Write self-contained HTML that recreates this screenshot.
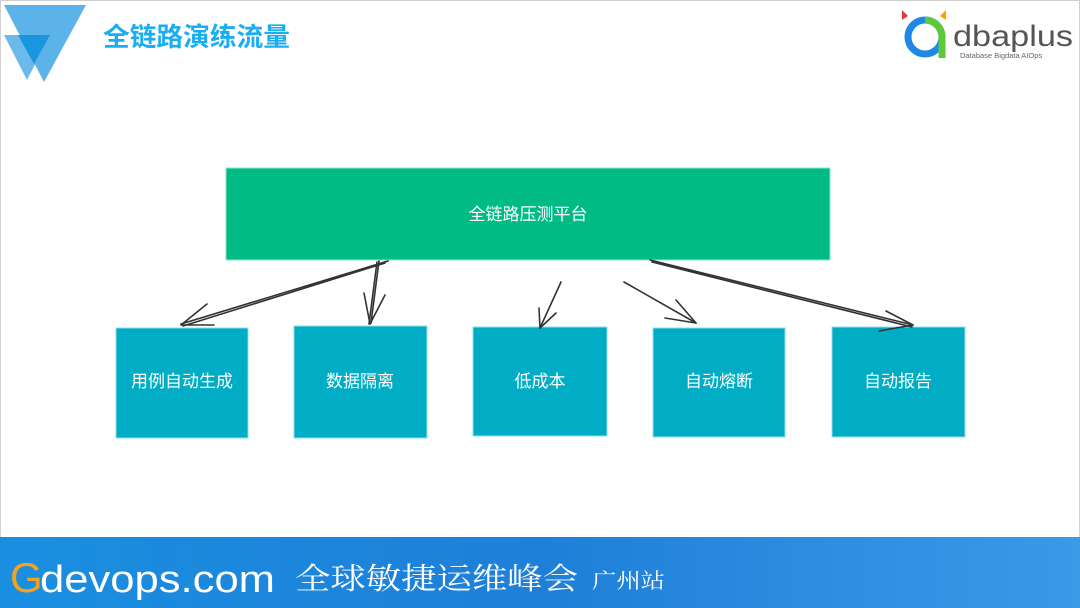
<!DOCTYPE html>
<html><head><meta charset="utf-8"><style>
html,body{margin:0;padding:0;background:#fff}
body{width:1080px;height:608px;overflow:hidden;position:relative;font-family:"Liberation Sans","Noto Sans CJK SC",sans-serif}
</style></head><body>
<svg width="1080" height="608" viewBox="0 0 1080 608" xmlns="http://www.w3.org/2000/svg" style="position:absolute;left:0;top:0">
<defs>
<linearGradient id="ft" x1="0" y1="0" x2="1" y2="0">
<stop offset="0" stop-color="#1a8fe0"/><stop offset="0.5" stop-color="#1e7fd8"/><stop offset="1" stop-color="#3a9ae8"/>
</linearGradient>
</defs>
<rect x="0.5" y="0.5" width="1079" height="607" fill="#fff" stroke="#d0d0d0"/>
<polygon points="4,5 86,5 44,82" fill="#5cb3ea"/>
<polygon points="4,35 50,35 27,80" fill="#5cb3ea" opacity="0.9"/>
<polygon points="18,35 50,35 34,64" fill="#1a96de"/>
<text x="103" y="46" font-size="26" font-weight="bold" fill="#1aaef0" textLength="187" lengthAdjust="spacingAndGlyphs" font-family="Liberation Sans,Noto Sans CJK SC,sans-serif">全链路演练流量</text>
<circle cx="925" cy="37" r="17" fill="none" stroke="#1e88e5" stroke-width="7"/>
<path d="M925 20 A17 17 0 0 1 942 37 L942 58" fill="none" stroke="#5cc83a" stroke-width="7"/>
<polygon points="902,10 908,16 902,20" fill="#e53935"/>
<polygon points="946,10 940,16 946,20" fill="#ffa000"/>
<text x="953" y="46" font-size="30" fill="#555" textLength="120" lengthAdjust="spacingAndGlyphs" font-family="Liberation Sans,sans-serif">dbaplus</text>
<text x="960" y="58" font-size="7.5" fill="#666" font-family="Liberation Sans,sans-serif">Database  Bigdata  AIOps</text>
<rect x="226" y="168" width="604" height="92" fill="#00bc84"/>
<rect x="226" y="168" width="604" height="92" fill="none" stroke="#8ee8c8" stroke-width="1"/>
<text x="528" y="220" font-size="17" fill="#fff" text-anchor="middle">全链路压测平台</text>
<g fill="#00adc4" stroke="#8ee0ec" stroke-width="1">
<rect x="116" y="328" width="132" height="110"/>
<rect x="294" y="326" width="133" height="112"/>
<rect x="473" y="327" width="134" height="109"/>
<rect x="653" y="328" width="132" height="109"/>
<rect x="832" y="327" width="133" height="110"/>
</g>
<g font-size="17" fill="#fff" text-anchor="middle">
<text x="182" y="387">用例自动生成</text>
<text x="360" y="387">数据隔离</text>
<text x="540" y="387">低成本</text>
<text x="719" y="387">自动熔断</text>
<text x="898" y="387">自动报告</text>
</g>
<g stroke="#333" stroke-width="1.6" fill="none" stroke-linecap="round">
<path d="M388 261 L181 324 M385 263 L183 326"/>
<path d="M181 325 L207 304 M181 325 L214 325"/>
<path d="M379 261 L371 323 M377 262 L369 324"/>
<path d="M370 324 L364 293 M370 324 L385 295"/>
<path d="M561 282 L540 328"/>
<path d="M540 328 L539 308 M540 328 L556 313"/>
<path d="M624 282 L696 323"/>
<path d="M696 323 L676 300 M696 323 L665 318"/>
<path d="M650 260 L913 325 M652 262 L912 327"/>
<path d="M913 325 L886 311 M913 325 L879 331"/>
</g>
<rect x="0" y="537" width="1080" height="71" fill="url(#ft)"/>
<text x="10" y="592" font-size="42" fill="#f6a21c" font-family="Liberation Sans,sans-serif">G</text>
<text x="40" y="592" font-size="38" fill="#fff" textLength="235" lengthAdjust="spacingAndGlyphs" font-family="Liberation Sans,sans-serif">devops.com</text>
<text x="295" y="589" font-size="30" fill="#fff" textLength="283" lengthAdjust="spacingAndGlyphs" font-family="Liberation Serif,Noto Serif CJK SC,serif">全球敏捷运维峰会</text>
<text x="592" y="588" font-size="21" fill="#fff" textLength="73" lengthAdjust="spacingAndGlyphs" font-family="Liberation Serif,Noto Serif CJK SC,serif">广州站</text>
</svg>
</body></html>
